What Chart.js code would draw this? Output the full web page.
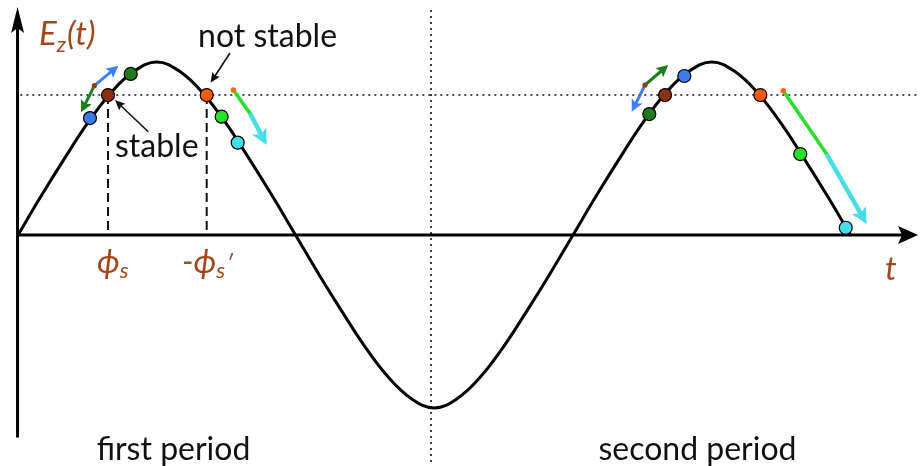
<!DOCTYPE html>
<html>
<head>
<meta charset="utf-8">
<script src="https://cdn.jsdelivr.net/npm/chart.js@4.4.1/dist/chart.umd.min.js"></script>
<style>
  html, body { margin: 0; padding: 0; background: #fff; }
  #wrap { width: 920px; height: 466px; }
</style>
</head>
<body>
<div id="wrap"><canvas id="c" width="920" height="466"></canvas></div>
<script>
// Accelerating field E_z(t) over two RF periods (phase in degrees, field normalised to the peak)
const phaseDeg = [0, 15, 30, 45, 60, 75, 90, 105, 120, 135, 150, 165, 180,
  195, 210, 225, 240, 255, 270, 285, 300, 315, 330, 345, 360,
  375, 390, 405, 420, 435, 450, 465, 480, 495, 510, 525, 540];
const fieldEz = [0, 0.225, 0.44, 0.645, 0.82, 0.945, 1, 0.945, 0.82, 0.645, 0.44, 0.225, 0,
  -0.225, -0.44, -0.645, -0.82, -0.945, -1, -0.945, -0.82, -0.645, -0.44, -0.225, 0,
  0.225, 0.44, 0.645, 0.82, 0.945, 1, 0.945, 0.82, 0.645, 0.44, 0.225, 0];

// synchronous field level and the two phases where the curve meets it
const syncLevel = 0.809;
const phiS = 58.4;
const phiSPrime = 122.4;
const troughPhase = 267.9;

// particles sitting on the wave
const bunchT = [46.7, 58.4, 73.1, 122.4, 132.1, 142.5, 409.5, 419.7, 432.2, 481.5, 507.4, 536.9];
const bunchE = [0.676, 0.809, 0.931, 0.809, 0.684, 0.534, 0.699, 0.809, 0.919, 0.809, 0.468, 0.042];
const bunchColor = ['#3d7ae6', '#8a3210', '#1d7a1d', '#ff5a0a', '#27e027', '#45dfe9',
                    '#1d7a1d', '#8a3210', '#3d7ae6', '#ff5a0a', '#27e027', '#45dfe9'];

// oscillation arrows around the stable phase: common start, tip
const swingT0 = [49.5, 49.5, 406.7, 406.7];
const swingE0 = [0.863, 0.863, 0.867, 0.867];
const swingT1 = [65.1, 40.9, 421.8, 398.1];
const swingE1 = [0.979, 0.709, 0.983, 0.713];
const swingColor = ['#3f7ff0', '#1b7f1b', '#1b7f1b', '#3f7ff0'];

// drift arrows past the unstable phase: start, colour change, tip
const driftT = [[139.7, 150.5, 161.3], [496.4, 524.5, 550.5]];
const driftE = [[0.838, 0.703, 0.520], [0.834, 0.468, 0.064]];

const BROWN = '#a2461c';
const FONT = 'Lato, "Open Sans", "DejaVu Sans", sans-serif';

function P(chart, t, e) {
  return [chart.scales.x.getPixelForValue(t), chart.scales.y.getPixelForValue(e)];
}

function head(ctx, fx, fy, tx, ty, len, hw, notch, color) {
  const a = Math.atan2(ty - fy, tx - fx);
  ctx.save();
  ctx.translate(tx, ty);
  ctx.rotate(a);
  ctx.beginPath();
  ctx.moveTo(0, 0);
  ctx.lineTo(-len, -hw);
  ctx.lineTo(-len + notch, 0);
  ctx.lineTo(-len, hw);
  ctx.closePath();
  ctx.fillStyle = color;
  ctx.fill();
  ctx.restore();
}

function shaft(ctx, x0, y0, x1, y1, back, width, color) {
  const a = Math.atan2(y1 - y0, x1 - x0);
  ctx.beginPath();
  ctx.moveTo(x0, y0);
  ctx.lineTo(x1 - Math.cos(a) * back, y1 - Math.sin(a) * back);
  ctx.lineWidth = width;
  ctx.strokeStyle = color;
  ctx.lineCap = 'butt';
  ctx.stroke();
}

function arrow(ctx, a, b, width, color, len, hw, notch) {
  shaft(ctx, a[0], a[1], b[0], b[1], len - notch - 1, width, color);
  head(ctx, a[0], a[1], b[0], b[1], len, hw, notch, color);
}

function richText(ctx, x, y, parts, color) {
  ctx.fillStyle = color;
  ctx.textBaseline = 'alphabetic';
  ctx.textAlign = 'left';
  let cx = x;
  for (const p of parts) {
    ctx.font = p.font;
    ctx.fillText(p.s, cx, y + (p.dy || 0));
    cx += ctx.measureText(p.s).width + (p.gap || 0);
  }
}

const backdrop = {
  id: 'backdrop',
  beforeDatasetsDraw(chart) {
    const ctx = chart.ctx;
    ctx.save();
    // dotted synchronous level and period divider
    ctx.setLineDash([2, 4]);
    ctx.lineWidth = 1.6;
    ctx.strokeStyle = '#111';
    let a = P(chart, 1.5, syncLevel), b = P(chart, 583, syncLevel);
    ctx.beginPath(); ctx.moveTo(a[0], a[1]); ctx.lineTo(b[0], b[1]); ctx.stroke();
    a = P(chart, troughPhase, 1.3); b = P(chart, troughPhase, -1.34);
    ctx.beginPath(); ctx.moveTo(a[0], a[1]); ctx.lineTo(b[0], b[1]); ctx.stroke();
    // dashed drops to the phase axis
    ctx.setLineDash([9, 5]);
    ctx.lineWidth = 2;
    for (const t of [phiS, phiSPrime]) {
      a = P(chart, t, syncLevel); b = P(chart, t, 0);
      ctx.beginPath(); ctx.moveTo(a[0], a[1]); ctx.lineTo(b[0], b[1]); ctx.stroke();
    }
    ctx.setLineDash([]);
    // axes
    const y0 = P(chart, -0.3, -1.17), y1 = P(chart, -0.3, 1.318);
    arrow(ctx, y0, y1, 3, '#000', 26, 6.5, 5);
    const x0 = P(chart, -0.3, 0), x1 = P(chart, 583.8, 0);
    arrow(ctx, x0, x1, 3, '#000', 20, 9, 4);
    ctx.restore();
  },
  afterDatasetsDraw(chart) {
    const ctx = chart.ctx;
    ctx.save();
    // swing arrows
    for (let i = 0; i < swingT0.length; i++) {
      const a = P(chart, swingT0[i], swingE0[i]);
      const b = P(chart, swingT1[i], swingE1[i]);
      arrow(ctx, a, b, 3, swingColor[i], 12, 6, 2.5);
    }
    for (let i = 0; i < swingT0.length; i += 2) {
      const a = P(chart, swingT0[i], swingE0[i]);
      ctx.beginPath(); ctx.arc(a[0], a[1], 2.6, 0, Math.PI * 2);
      ctx.fillStyle = '#9a3a12'; ctx.fill();
    }
    // drift arrows
    for (let k = 0; k < driftT.length; k++) {
      const a = P(chart, driftT[k][0], driftE[k][0]);
      const m = P(chart, driftT[k][1], driftE[k][1]);
      const b = P(chart, driftT[k][2], driftE[k][2]);
      ctx.beginPath(); ctx.moveTo(a[0], a[1]); ctx.lineTo(m[0], m[1]);
      ctx.lineWidth = 3.6; ctx.strokeStyle = '#2edc2e'; ctx.lineCap = 'round'; ctx.stroke();
      arrow(ctx, m, b, 4.5, '#48dbe8', 16, 8, 4);
      ctx.beginPath(); ctx.arc(a[0], a[1], 2.8, 0, Math.PI * 2);
      ctx.fillStyle = '#ff6a1a'; ctx.fill();
    }
    // pointer arrows for the labels
    arrow(ctx, P(chart, 137.5, 1.052), P(chart, 124.9, 0.88), 1.6, '#111', 10, 4.5, 1.5);
    arrow(ctx, P(chart, 84.5, 0.597), P(chart, 62.9, 0.78), 1.6, '#111', 10, 4.5, 1.5);

    // labels
    const body = '32px ' + FONT;
    let p = P(chart, 116.8, 1.087);
    richText(ctx, p[0], p[1], [{ s: 'not stable', font: body }], '#111');
    p = P(chart, 62.9, 0.451);
    richText(ctx, p[0], p[1], [{ s: 'stable', font: body }], '#111');

    const it = 'italic 33px ' + FONT, sub = 'italic 22px ' + FONT;
    p = P(chart, 13.6, 1.098);
    richText(ctx, p[0], p[1], [
      { s: 'E', font: it },
      { s: 'z', font: sub, dy: 7, gap: 1 },
      { s: '(t)', font: it }
    ], BROWN);
    p = P(chart, 51.2, -0.22);
    richText(ctx, p[0], p[1], [
      { s: 'ϕ', font: it },
      { s: 's', font: sub, dy: 5 }
    ], BROWN);
    p = P(chart, 106.4, -0.22);
    richText(ctx, p[0], p[1], [
      { s: '-ϕ', font: it },
      { s: 's', font: sub, dy: 5, gap: 1 },
      { s: '\u2032', font: sub, dy: -2 }
    ], BROWN);
    p = P(chart, 562.4, -0.26);
    richText(ctx, p[0], p[1], [{ s: 't', font: it }], BROWN);

    ctx.textAlign = 'center';
    ctx.fillStyle = '#111';
    ctx.font = body;
    p = P(chart, 100.9, -1.30);
    ctx.fillText('first period', p[0], p[1]);
    p = P(chart, 440.7, -1.30);
    ctx.fillText('second period', p[0], p[1]);
    ctx.restore();
  }
};

new Chart(document.getElementById('c'), {
  type: 'scatter',
  data: {
    datasets: [
      {
        data: bunchT.map((t, i) => ({ x: t, y: bunchE[i] })),
        showLine: false,
        pointRadius: 6.5,
        pointBackgroundColor: bunchColor,
        pointBorderColor: '#000',
        pointBorderWidth: 1.2,
        order: 0
      },
      {
        data: phaseDeg.map((t, i) => ({ x: t, y: fieldEz[i] })),
        showLine: true,
        borderColor: '#000',
        borderWidth: 3,
        pointRadius: 0,
        tension: 0.4,
        order: 1
      }
    ]
  },
  options: {
    responsive: false,
    animation: false,
    devicePixelRatio: 1,
    layout: { padding: 0, autoPadding: false },
    plugins: { legend: { display: false }, tooltip: { enabled: false } },
    scales: {
      x: { type: 'linear', display: false, min: -11.675, max: 585.07 },
      y: { type: 'linear', display: false, min: -1.3353, max: 1.3584 }
    }
  },
  plugins: [backdrop]
});
</script>
</body>
</html>
